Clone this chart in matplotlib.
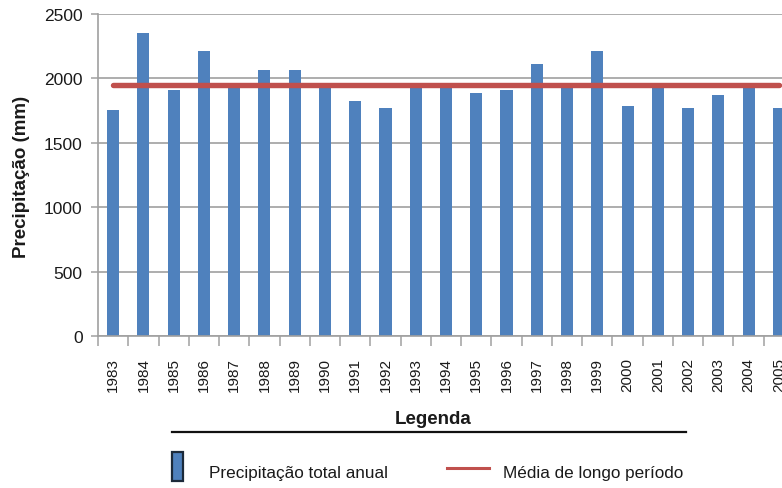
import matplotlib
matplotlib.use("Agg")
import matplotlib.pyplot as plt
from matplotlib.lines import Line2D
from matplotlib.patches import Rectangle

plt.rcParams['font.family'] = ['Liberation Sans', 'DejaVu Sans']

# precipitacao total anual (mm)
anos = ['1983', '1984', '1985', '1986', '1987', '1988', '1989', '1990',
        '1991', '1992', '1993', '1994', '1995', '1996', '1997', '1998',
        '1999', '2000', '2001', '2002', '2003', '2004', '2005']
precip = [1750, 2350, 1905, 2210, 1940, 2060, 2060, 1940,
          1820, 1770, 1940, 1940, 1885, 1905, 2110, 1940,
          2210, 1785, 1940, 1770, 1870, 1940, 1770]
media = 1948
y_ticks = [0, 500, 1000, 1500, 2000, 2500]

azul = '#4F81BD'
vermelho = '#C0504D'
cinza = '#A0A0A0'
texto = '#1a1a1a'

fig = plt.figure(figsize=(7.82, 4.89), dpi=100)
ax = fig.add_axes([98 / 782, 1 - 337 / 489, 696 / 782, (337 - 14.7) / 489])

x = list(range(len(anos)))
ax.bar(x, precip, width=0.4, color=azul, zorder=2)
ax.plot(x, [media] * len(x), color=vermelho, lw=3.9,
        solid_capstyle='round', zorder=3)

ax.set_xlim(-0.5, len(anos) - 0.5)
ax.set_ylim(0, 2500)
ax.set_yticks(y_ticks)
ax.set_yticklabels([str(v) for v in y_ticks], fontsize=12.5, color=texto)
ax.grid(axis='y', color=cinza, lw=1.2, zorder=0)

ax.set_xticks(x)
ax.set_xticklabels(anos, rotation=90, fontsize=11, color=texto)
ax.set_xticks([i + 0.5 for i in range(-1, len(anos))], minor=True)
ax.tick_params(axis='x', which='major', length=0, pad=15)
ax.tick_params(axis='x', which='minor', length=7.5, width=1.1, color=cinza)
ax.tick_params(axis='y', length=5, width=1.1, color=cinza, pad=6)

for s in ['top', 'right']:
    ax.spines[s].set_visible(False)
for s in ['left', 'bottom']:
    ax.spines[s].set_color(cinza)
    ax.spines[s].set_linewidth(1.2)

fig.text(22 / 782, 1 - 177 / 489, 'Precipitação (mm)', rotation=90,
         ha='center', va='center', fontsize=13.5, fontweight='bold', color=texto)

# legenda desenhada abaixo do grafico
fig.text(433 / 782, 1 - 420 / 489, 'Legenda', ha='center', va='center',
         fontsize=13.5, fontweight='bold', color=texto)
fig.add_artist(Line2D([172 / 782, 686 / 782], [1 - 433 / 489, 1 - 433 / 489],
                      color='#111111', lw=1.6))
fig.add_artist(Rectangle((172 / 782, 1 - 482 / 489), 11 / 782, 29 / 489,
                         facecolor=azul, edgecolor='#1c2a3a', lw=1.6))
fig.text(209 / 782, 1 - 474 / 489, 'Precipitação total anual', ha='left',
         va='center', fontsize=12.3, color=texto)
fig.add_artist(Line2D([447 / 782, 489 / 782], [1 - 469 / 489, 1 - 469 / 489],
                      color=vermelho, lw=2.2))
fig.text(503 / 782, 1 - 474 / 489, 'Média de longo período', ha='left',
         va='center', fontsize=12.3, color=texto)

fig.savefig('out.png', dpi=100)
